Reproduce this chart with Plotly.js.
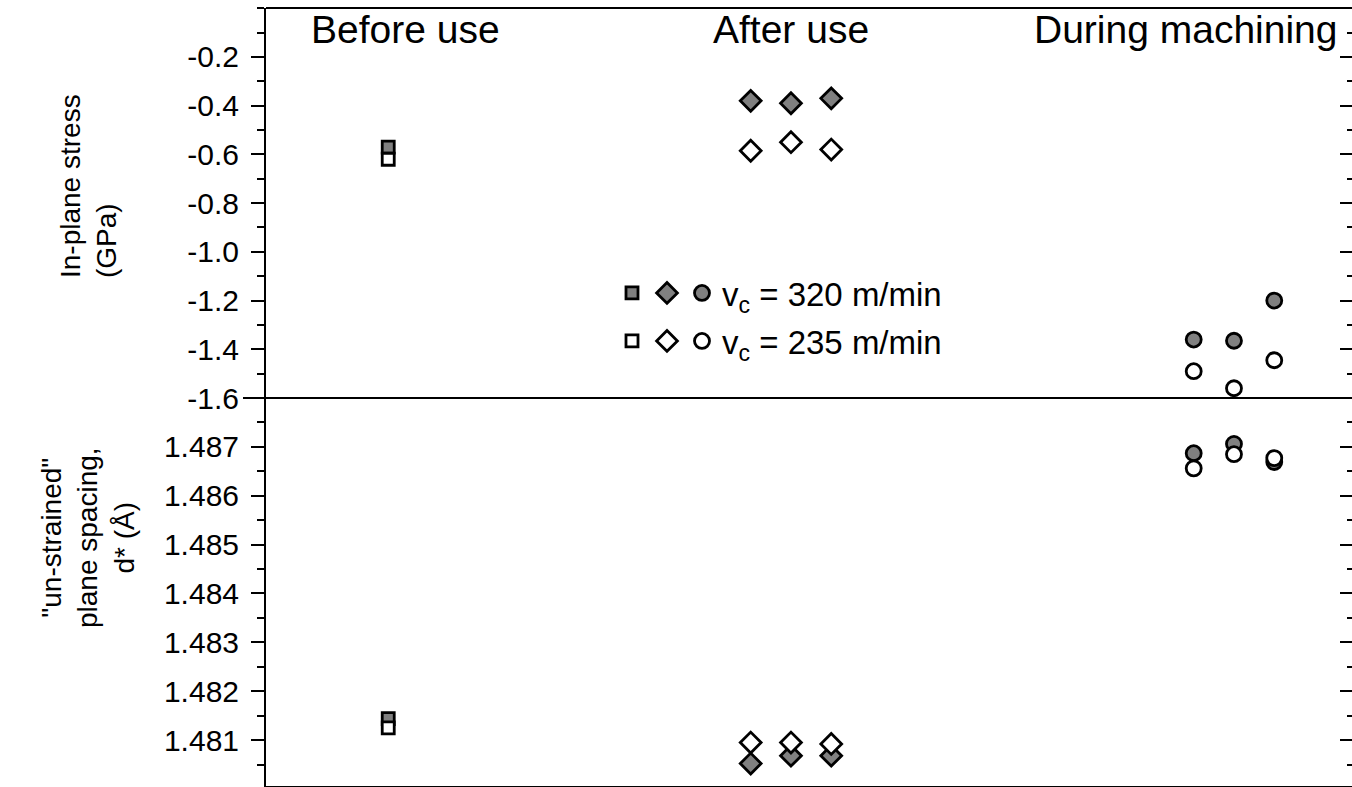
<!DOCTYPE html>
<html><head><meta charset="utf-8">
<script src="https://cdn.plot.ly/plotly-3.0.1.min.js"></script>
<style>html,body{margin:0;padding:0;overflow:hidden;background:#fff}#chart{width:1356px;height:787px}</style>
</head><body><div id="chart"></div>
<script>
// ---- data ----
const groupLabels = ['Before use', 'After use', 'During machining'];
const groupLabelX = [0.42, 10, 19.8];
const xBefore = [0];
const xAfter = [9, 10, 11];
const xDuring = [20, 21, 22];

// In-plane stress (GPa)
const stress320Before = [-0.57];
const stress235Before = [-0.62];
const stress320After = [-0.38, -0.39, -0.37];
const stress235After = [-0.585, -0.55, -0.58];
const stress320During = [-1.36, -1.365, -1.20];
const stress235During = [-1.49, -1.56, -1.445];

// un-strained plane spacing d* (Angstrom)
const d320Before = [1.48144];
const d235Before = [1.48125];
const d320After = [1.48052, 1.48068, 1.48068];
const d235After = [1.48095, 1.48095, 1.48092];
const d320During = [1.48687, 1.48706, 1.48669];
const d235During = [1.48656, 1.48685, 1.48677];

const stressTickVals = [-1.6, -1.4, -1.2, -1.0, -0.8, -0.6, -0.4, -0.2];
const stressTickText = ['-1.6', '-1.4', '-1.2', '-1.0', '-0.8', '-0.6', '-0.4', '-0.2'];
const dTickVals = [1.481, 1.482, 1.483, 1.484, 1.485, 1.486, 1.487];
const dTickText = ['1.481', '1.482', '1.483', '1.484', '1.485', '1.486', '1.487'];
const legendText320 = 'v<sub>c</sub> = 320 m/min';
const legendText235 = 'v<sub>c</sub> = 235 m/min';

// ---- styling / geometry ----
const FONT = 'Liberation Sans, Arial, sans-serif';
const W = 1356, H = 787, ML = 266, MR = 2, MT = 8, MB = 1;
const plotH = H - MT - MB;
const splitPx = 398;
const split = (H - MB - splitPx) / plotH;
const plotW = W - ML - MR;
const pxX = px => (px - ML) / plotW;
const pxY = py => (H - MB - py) / plotH;
const xRange = [-3.035, 23.98];
const stressRange = [-1.6, 0.001];
const dRange = [1.48006, 1.488];

const GRAY = '#808080';
const mk = (symbol, filled, size) => ({
  symbol: symbol, size: size, color: filled ? GRAY : '#ffffff',
  line: {color: '#000000', width: 2.8}
});
const SZ = {square: 12, diamond: 16, circle: 15};

// filled (320 m/min) series use the left axes y / y2; open (235 m/min) series use the
// overlaid right-hand axes y3 / y4 (same ranges), so they are drawn on top.
function tr(x, y, yaxis, symbol, filled, name, legend, showlegend) {
  return {
    type: 'scatter', mode: 'markers', x: x, y: y, xaxis: 'x', yaxis: yaxis,
    marker: mk(symbol, filled, SZ[symbol]), name: name, legend: legend,
    showlegend: showlegend, hoverinfo: 'x+y'
  };
}

const traces = [
  tr(xBefore, stress320Before, 'y', 'square', true, '', 'legend', true),
  tr(xAfter, stress320After, 'y', 'diamond', true, '', 'legend', true),
  tr(xDuring, stress320During, 'y', 'circle', true, legendText320, 'legend', true),
  tr(xBefore, stress235Before, 'y3', 'square', false, '', 'legend2', true),
  tr(xAfter, stress235After, 'y3', 'diamond', false, '', 'legend2', true),
  tr(xDuring, stress235During, 'y3', 'circle', false, legendText235, 'legend2', true),
  tr(xBefore, d320Before, 'y2', 'square', true, '', 'legend', false),
  tr(xAfter, d320After, 'y2', 'diamond', true, '', 'legend', false),
  tr(xDuring, d320During, 'y2', 'circle', true, '', 'legend', false),
  tr(xBefore, d235Before, 'y4', 'square', false, '', 'legend2', false),
  tr(xAfter, d235After, 'y4', 'diamond', false, '', 'legend2', false),
  tr(xDuring, d235During, 'y4', 'circle', false, '', 'legend2', false)
];

const yBase = {
  showline: true, mirror: true, linecolor: '#000', linewidth: 2, showgrid: false, zeroline: false,
  tickmode: 'array', ticks: 'outside', ticklen: 13, tickwidth: 2, tickcolor: '#000',
  ticklabelstandoff: 6, tickfont: {family: FONT, size: 30, color: '#000'}, fixedrange: true
};
const yRightBase = {
  side: 'right', anchor: 'x', showline: false, showgrid: false, zeroline: false,
  tickmode: 'array', ticks: 'inside', ticklen: 14, tickwidth: 2, tickcolor: '#000',
  showticklabels: false, fixedrange: true
};

const legendBase = {
  orientation: 'h', xanchor: 'left', yanchor: 'middle', indentation: -10,
  bgcolor: 'rgba(0,0,0,0)', borderwidth: 0, font: {family: FONT, size: 33, color: '#000'},
  traceorder: 'normal', itemclick: false, itemdoubleclick: false
};

const annFont = {family: FONT, size: 39, color: '#000'};
const frameLine = {color: '#000', width: 2};
const layout = {
  width: W, height: H,
  margin: {l: ML, r: MR, t: MT, b: MB, pad: 0},
  paper_bgcolor: '#fff', plot_bgcolor: '#fff',
  font: {family: FONT, color: '#000'},
  showlegend: true,
  xaxis: {
    range: xRange, domain: [0, 1], anchor: 'y2', showline: true, mirror: false, linecolor: '#000', linewidth: 2,
    showgrid: false, zeroline: false, showticklabels: false, ticks: '', fixedrange: true
  },
  yaxis: Object.assign({}, yBase, {
    domain: [split, 1], range: stressRange, anchor: 'x',
    tickvals: stressTickVals, ticktext: stressTickText,
    minor: {ticks: 'outside', ticklen: 7, tickwidth: 2, tickcolor: '#000', dtick: 0.1, tick0: 0, showgrid: false}
  }),
  yaxis2: Object.assign({}, yBase, {
    domain: [0, split], range: dRange, anchor: 'x',
    tickvals: dTickVals, ticktext: dTickText,
    minor: {ticks: 'outside', ticklen: 7, tickwidth: 2, tickcolor: '#000', dtick: 0.0005, tick0: 1.48, showgrid: false}
  }),
  yaxis3: Object.assign({}, yRightBase, {
    overlaying: 'y', range: stressRange, tickvals: stressTickVals,
    minor: {ticks: 'inside', ticklen: 7, tickwidth: 2, tickcolor: '#000', dtick: 0.1, tick0: 0}
  }),
  yaxis4: Object.assign({}, yRightBase, {
    overlaying: 'y2', range: dRange, tickvals: dTickVals,
    minor: {ticks: 'inside', ticklen: 7, tickwidth: 2, tickcolor: '#000', dtick: 0.0005, tick0: 1.48}
  }),
  // frame: top border and the panel divider (which runs a little past the left axis)
  shapes: [
    {type: 'line', xref: 'paper', yref: 'paper', x0: 0, x1: 1, y0: 1, y1: 1, line: frameLine, layer: 'above'},
    {type: 'line', xref: 'paper', yref: 'paper', x0: pxX(243), x1: 1, y0: split, y1: split, line: frameLine, layer: 'above'}
  ],
  legend: Object.assign({}, legendBase, {x: pxX(622), y: pxY(293)}),
  legend2: Object.assign({}, legendBase, {x: pxX(622), y: pxY(341)}),
  annotations: [
    {text: groupLabels[0], x: groupLabelX[0], xref: 'x', y: pxY(30), yref: 'paper', showarrow: false,
     xanchor: 'center', yanchor: 'middle', font: annFont},
    {text: groupLabels[1], x: groupLabelX[1], xref: 'x', y: pxY(30), yref: 'paper', showarrow: false,
     xanchor: 'center', yanchor: 'middle', font: annFont},
    {text: groupLabels[2], x: groupLabelX[2], xref: 'x', y: pxY(30), yref: 'paper', showarrow: false,
     xanchor: 'center', yanchor: 'middle', font: annFont},
    {text: 'In-plane stress<br>(GPa)', textangle: -90, align: 'left', x: pxX(88), xref: 'paper',
     y: pxY(186), yref: 'paper', showarrow: false, xanchor: 'center', yanchor: 'middle',
     font: {family: FONT, size: 28, color: '#000'}},
    {text: '"un-strained"<br>plane spacing,<br>d* (\u00C5)', textangle: -90, align: 'center', x: pxX(88), xref: 'paper',
     y: pxY(538), yref: 'paper', showarrow: false, xanchor: 'center', yanchor: 'middle',
     font: {family: FONT, size: 28, color: '#000'}}
  ]
};

Plotly.newPlot('chart', traces, layout, {displayModeBar: false, responsive: false});
</script></body></html>
